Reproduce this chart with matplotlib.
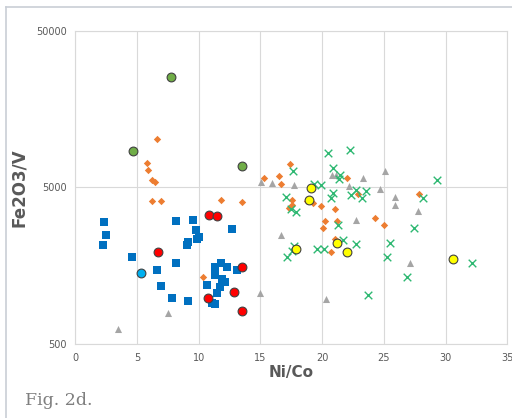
import matplotlib
matplotlib.use("Agg")
import matplotlib.pyplot as plt
from matplotlib.lines import Line2D
from matplotlib.ticker import FixedLocator, NullLocator, FixedFormatter

# ── Data ────────────────────────────────────────────────────────────────────────
sq_x = [2.30, 2.49, 2.22, 4.57, 8.13, 8.18, 6.59, 6.94, 7.85, 9.15,
        9.56, 9.77, 9.99, 9.88, 9.13, 9.07, 12.69, 11.80, 11.31, 12.31,
        11.34, 11.88, 12.12, 11.72, 10.64, 11.50, 11.07, 11.34, 13.12]
sq_y = [3034, 2507, 2153, 1804, 3061, 1638, 1485, 1179, 980, 942,
        3080, 2670, 2421, 2330, 2249, 2143, 2710, 1646, 1545, 1550,
        1393, 1306, 1245, 1161, 1186, 1055, 918, 910, 1478]

dia_x = [6.62, 5.81, 5.86, 6.21, 6.48, 6.21, 6.96, 11.82, 13.50, 10.32,
         15.28, 16.52, 16.63, 17.38, 17.53, 17.55, 17.33, 18.73, 19.22, 19.90,
         21.03, 21.98, 20.22, 20.06, 21.21, 22.94, 24.24, 25.00, 27.83, 21.05,
         20.68]
dia_y = [10160, 7150, 6470, 5590, 5430, 4105, 4100, 4167, 4014, 1353,
         5790, 5900, 5300, 7073, 4150, 3860, 3706, 4110, 3990, 3838,
         3620, 5760, 3048, 2762, 3060, 4555, 3186, 2887, 4555, 2340,
         1934]

tri_x = [3.43, 7.53, 14.93, 16.68, 15.06, 15.90, 17.68, 20.27, 20.81, 21.10,
         22.16, 22.73, 23.32, 25.05, 24.67, 25.91, 25.91, 27.72, 27.13]
tri_y = [627, 793, 1055, 2507, 5460, 5340, 5170, 970, 6050, 5990,
         5100, 3125, 5760, 6380, 4875, 4340, 3870, 3530, 1652]

x_x = [20.49, 22.27, 17.65, 20.84, 21.43, 21.38, 19.33, 19.87, 29.31, 17.06,
       17.44, 17.85, 20.89, 20.73, 22.32, 22.70, 23.19, 23.56, 28.13, 21.30,
       27.40, 25.46, 22.73, 21.65, 25.26, 19.60, 20.16, 17.73, 17.52, 17.14,
       26.83, 32.10, 23.67]
x_y = [8237, 8650, 6410, 6670, 5965, 5625, 5245, 5150, 5590, 4320,
       3620, 3480, 4580, 4290, 4465, 4825, 4270, 4735, 4255, 2887,
       2740, 2197, 2175, 2296, 1804, 2041, 2041, 2112, 1971, 1790,
       1345, 1646, 1024]

grn_x = [7.77, 4.65, 13.50]
grn_y = [25350, 8485, 6835]

cyan_x = [5.29]
cyan_y = [1420]

red_x = [6.67, 10.83, 11.45, 13.50, 12.88, 10.74, 13.53]
red_y = [1934, 3316, 3300, 1558, 1079, 988, 813]

yel_x = [19.08, 18.95, 17.87, 21.21, 22.02, 30.56]
yel_y = [4970, 4150, 2012, 2229, 1934, 1737]

y_ticks = [500, 5000, 50000]
x_ticks = [0, 5, 10, 15, 20, 25, 30, 35]

# ── Style ───────────────────────────────────────────────────────────────────────
TEXT_COLOR = "#595959"
GRID_COLOR = "#D9D9D9"

fig = plt.figure(figsize=(5.12, 4.18), dpi=100)
ax = fig.add_axes([0.147, 0.1763, 0.844, 0.7503])

ax.scatter(dia_x, dia_y, marker="D", s=14, color="#ED7D31", linewidths=0, zorder=3)
ax.scatter(tri_x, tri_y, marker="^", s=26, color="#A5A5A5", linewidths=0, zorder=3)
ax.scatter(x_x, x_y, marker="x", s=30, color="#2EB872", linewidths=1.0, zorder=3)
ax.scatter(sq_x, sq_y, marker="s", s=30, color="#0070C0", linewidths=0, zorder=4)

circle_kw = dict(marker="o", s=40, edgecolors="#404040", linewidths=0.8, zorder=5)
ax.scatter(grn_x, grn_y, color="#70AD47", **circle_kw)
ax.scatter(cyan_x, cyan_y, color="#00B0F0", **circle_kw)
ax.scatter(red_x, red_y, color="#FF0000", **circle_kw)
ax.scatter(yel_x, yel_y, color="#FFFF00", **circle_kw)

ax.set_yscale("log")
ax.set_ylim(500, 50000)
ax.set_xlim(0, 35)
ax.yaxis.set_major_locator(FixedLocator(y_ticks))
ax.yaxis.set_major_formatter(FixedFormatter([str(v) for v in y_ticks]))
ax.yaxis.set_minor_locator(NullLocator())
ax.set_xticks(x_ticks)

ax.grid(True, color=GRID_COLOR, linewidth=0.8)
ax.set_axisbelow(True)
for side in ["top", "right", "left", "bottom"]:
    ax.spines[side].set_color(GRID_COLOR)
    ax.spines[side].set_linewidth(0.8)
ax.tick_params(length=0, labelsize=7, labelcolor=TEXT_COLOR, pad=6)

ax.set_xlabel("Ni/Co", fontsize=11, fontweight="bold", color=TEXT_COLOR, labelpad=2)
ax.set_ylabel("Fe2O3/V", fontsize=12, fontweight="bold", color=TEXT_COLOR, labelpad=6)

# caption and page frame
fig.text(0.049, 0.032, "Fig. 2d.", family="DejaVu Serif", fontsize=12.5, color="#7F7F7F")
fig.add_artist(Line2D([5.5 / 512, 5.5 / 512], [0, 1 - 7 / 418], color="#C9CED6",
                      linewidth=1.2, transform=fig.transFigure))
fig.add_artist(Line2D([5.5 / 512, 1], [1 - 7 / 418, 1 - 7 / 418], color="#C9CED6",
                      linewidth=1.2, transform=fig.transFigure))

fig.savefig("out.png", dpi=100)
